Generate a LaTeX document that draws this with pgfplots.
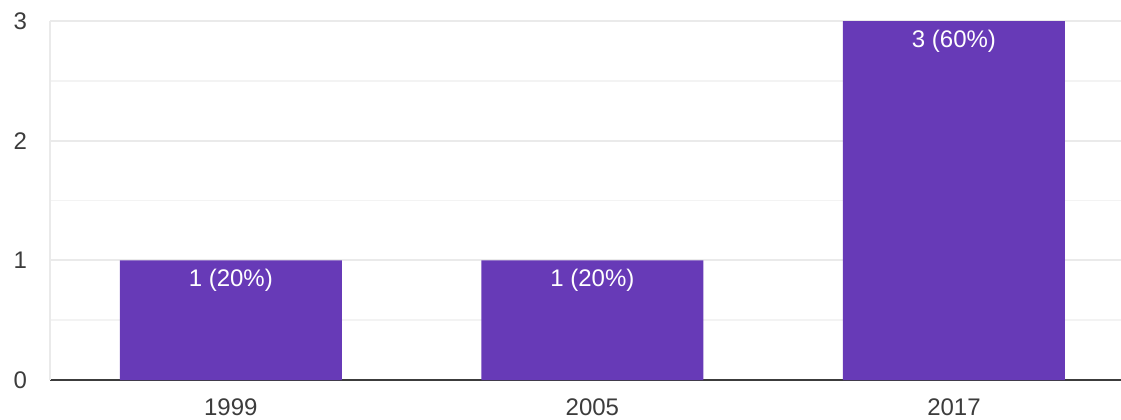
\documentclass[border=0pt]{standalone}
\usepackage{pgfplots}
\pgfplotsset{compat=1.18}
\usepackage{fontspec}
\setmainfont{Liberation Sans}
\definecolor{barpurple}{HTML}{673AB7}
\definecolor{majgrid}{HTML}{EAEAEA}
\definecolor{mingrid}{HTML}{F3F3F3}
\definecolor{ticktext}{HTML}{3C3C3C}
\begin{document}
\begin{tikzpicture}
\useasboundingbox (0,0) rectangle (560.5pt,209.5pt);
\begin{axis}[
  at={(25pt,19.5pt)}, anchor=south west,
  scale only axis,
  width=535.5pt, height=179.5pt,
  xmin=-0.5, xmax=2.462,
  ymin=0, ymax=3,
  ybar, bar width=0.614,
  xtick={0,1,2},
  xticklabels={1999,2005,2017},
  ytick={0,1,2,3},
  minor ytick={0.5,1.5,2.5},
  ymajorgrids, yminorgrids,
  major grid style={draw=majgrid, line width=1pt},
  minor grid style={draw=mingrid, line width=0.7pt},
  major tick length=0pt, minor tick length=0pt,
  axis x line*=bottom, axis y line*=left,
  x axis line style={draw=ticktext, line width=1.2pt, -},
  y axis line style={draw=majgrid, line width=1pt, -},
  tick label style={font=\fontsize{12}{14}\selectfont, text=ticktext},
  yticklabel style={xshift=-8pt},
  xticklabel style={yshift=-6pt},
  /pgf/number format/assume math mode=true,
  point meta=explicit symbolic,
  nodes near coords,
  every node near coord/.append style={anchor=north, text=white,
    font=\fontsize{12}{14}\selectfont, yshift=-1pt},
]
\addplot[fill=barpurple, draw=none] coordinates {
  (0,1) [1 (20\%)]
  (1,1) [1 (20\%)]
  (2,3) [3 (60\%)]
};
\end{axis}
\end{tikzpicture}
\end{document}
